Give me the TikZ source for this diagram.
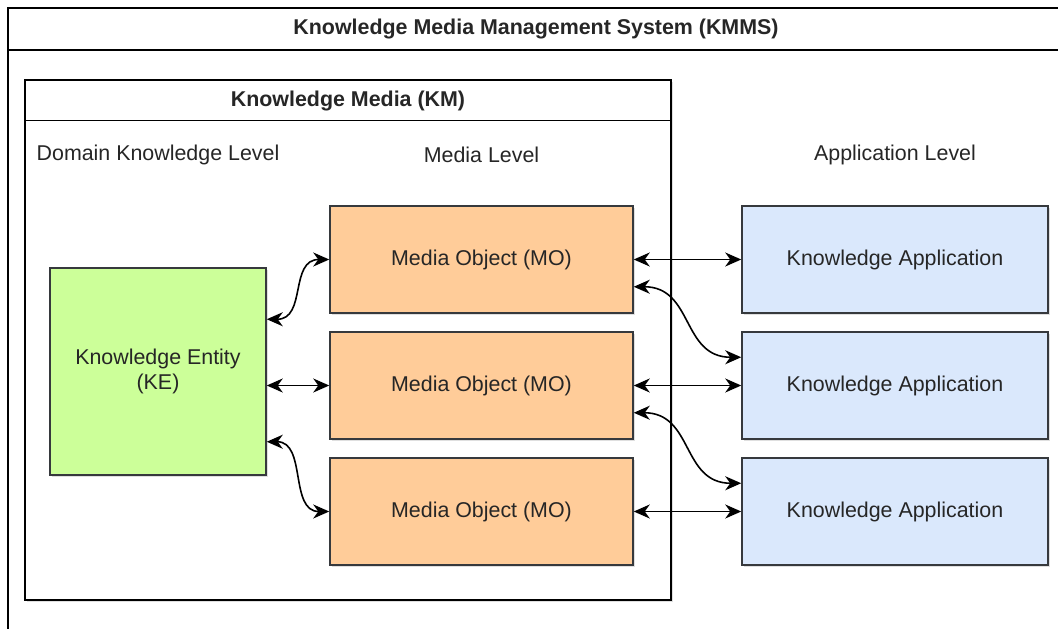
\documentclass[tikz,border=0pt]{standalone}
\usepackage{fontspec}
\setmainfont{Liberation Sans}
\usetikzlibrary{arrows.meta,shadows}

\definecolor{keGreen}{HTML}{CCFF99}
\definecolor{moOrange}{HTML}{FFCC99}
\definecolor{kaBlue}{HTML}{DAE8FC}
\definecolor{lineGray}{HTML}{36393D}

\begin{document}
\begin{tikzpicture}[x=1pt,y=-1pt,
    every node/.style={font=\fontsize{21.4}{25.7}\selectfont,text=black!85}]
        \tikzstyle{box}=[draw=lineGray,line width=1.5pt,minimum width=303pt,minimum height=107pt,inner sep=0pt,align=center,
                         drop shadow={shadow xshift=2pt,shadow yshift=-2pt,opacity=0.25}]
        \tikzstyle{frame}=[draw=black,line width=1.5pt,fill=white,inner sep=0pt,
                           drop shadow={shadow xshift=2pt,shadow yshift=-2pt,opacity=0.25}]
        \tikzstyle{title}=[font=\fontsize{21.4}{25.7}\selectfont\bfseries]
        \tikzstyle{edge}=[draw,line width=1.6pt,
                          {Stealth[length=16pt,width=14pt,inset=5pt]}-{Stealth[length=16pt,width=14pt,inset=5pt]}]
        \useasboundingbox (0,0) rectangle (1058,629);

        % system frame, runs off the page on the right and bottom
        \begin{scope}
         \clip (0,0) rectangle (1058,629);
         \draw[line width=1.5pt] (8,8) rectangle (1090,660);
         \draw[line width=1.5pt] (8,50) -- (1090,50);
        \end{scope}
        \node [title] (kmms) at (536,29) {Knowledge Media Management System (KMMS)};

        % knowledge media container
        \node [frame,minimum width=646pt,minimum height=520pt] (km) at (348,340) {};
        \draw[line width=1.5pt] ([yshift=-41pt]km.north west) -- ([yshift=-41pt]km.north east);
        \node [title] (kmtitle) at (348,101) {Knowledge Media (KM)};

        % level headings
        \node (domain) at (158,155) {Domain Knowledge Level};
        \node (media) at (481.5,155) {Media Level};
        \node (app) at (895,155) {Application Level};

        \begin{scope}
         \node [box,fill=keGreen,minimum width=216pt,minimum height=207pt] (ke) at (158,371.5) {Knowledge Entity\\(KE)};

         \node [box,fill=moOrange] (mo1) at (481.5,259.5) {Media Object (MO)};
         \node [box,fill=moOrange] (mo2) at (481.5,385.5) {Media Object (MO)};
         \node [box,fill=moOrange] (mo3) at (481.5,511.5) {Media Object (MO)};

         \node [box,fill=kaBlue,minimum width=306pt] (ka1) at (895,259.5) {Knowledge Application};
         \node [box,fill=kaBlue,minimum width=306pt] (ka2) at (895,385.5) {Knowledge Application};
         \node [box,fill=kaBlue,minimum width=306pt] (ka3) at (895,511.5) {Knowledge Application};

         \path[edge] ([yshift=-52pt]ke.north east) .. controls +(40,0) and +(-40,0) .. (mo1.west);
         \path[edge] (ke.east |- mo2.west) to (mo2.west);
         \path[edge] ([yshift=34pt]ke.south east) .. controls +(40,0) and +(-40,0) .. (mo3.west);

         \path[edge] (mo1.east) to (ka1.west);
         \path[edge] (mo2.east) to (ka2.west);
         \path[edge] (mo3.east) to (ka3.west);

         \path[edge] ([yshift=27pt]mo1.south east) .. controls +(60,0) and +(-60,0) .. ([yshift=-26pt]ka2.north west);
         \path[edge] ([yshift=27pt]mo2.south east) .. controls +(60,0) and +(-60,0) .. ([yshift=-26pt]ka3.north west);
        \end{scope}

\end{tikzpicture}
\end{document}
